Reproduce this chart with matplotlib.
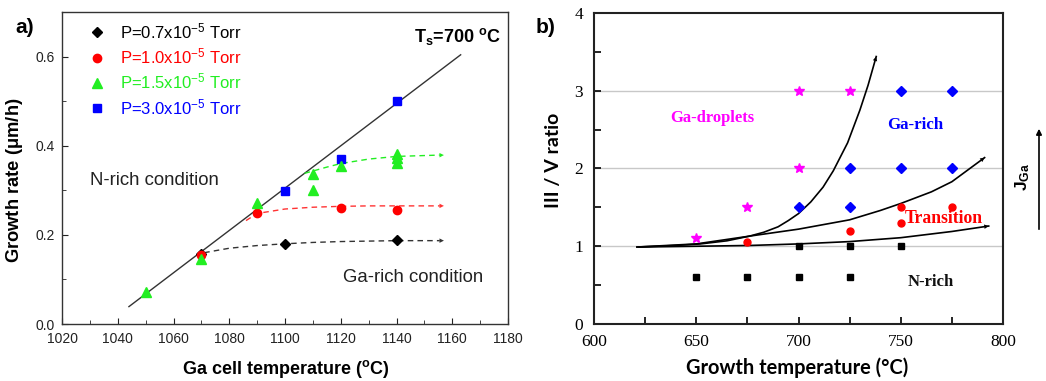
import matplotlib
matplotlib.use("Agg")
import matplotlib.pyplot as plt
from matplotlib.lines import Line2D

plt.rcParams['mathtext.fontset'] = 'custom'
plt.rcParams['mathtext.rm'] = 'Liberation Sans'
plt.rcParams['mathtext.bf'] = 'Liberation Sans:bold'
plt.rcParams['mathtext.it'] = 'Liberation Sans:italic'

# ---------------- Panel a data ----------------
a_black_x = [1070, 1100, 1140]
a_black_y = [0.158, 0.180, 0.189]
a_red_x = [1070, 1090, 1120, 1140]
a_red_y = [0.155, 0.250, 0.260, 0.255]
a_green_x = [1050, 1070, 1090, 1110, 1110, 1120, 1140, 1140, 1140]
a_green_y = [0.071, 0.146, 0.272, 0.337, 0.301, 0.355, 0.381, 0.372, 0.361]
a_blue_x = [1100, 1120, 1140]
a_blue_y = [0.299, 0.370, 0.500]

a_fit_x = [1044, 1163]
a_fit_y = [0.039, 0.604]

a_sat_black_x = [1071, 1080, 1090, 1100, 1110, 1120, 1130, 1140, 1157]
a_sat_black_y = [0.160, 0.170, 0.176, 0.180, 0.183, 0.185, 0.186, 0.187, 0.187]
a_sat_red_x = [1086, 1090, 1100, 1110, 1120, 1130, 1140, 1157]
a_sat_red_y = [0.232, 0.248, 0.258, 0.262, 0.264, 0.265, 0.265, 0.265]
a_sat_green_x = [1107, 1115, 1120, 1130, 1140, 1157]
a_sat_green_y = [0.338, 0.352, 0.360, 0.370, 0.376, 0.379]

a_legend_labels = [r'P=0.7x10$^{-5}$ Torr', r'P=1.0x10$^{-5}$ Torr',
                   r'P=1.5x10$^{-5}$ Torr', r'P=3.0x10$^{-5}$ Torr']

# ---------------- Panel b data ----------------
b_nrich_x = [650, 675, 700, 725, 700, 725, 750]
b_nrich_y = [0.6, 0.6, 0.6, 0.6, 1.0, 1.0, 1.0]
b_trans_x = [675, 725, 750, 750, 775]
b_trans_y = [1.05, 1.20, 1.50, 1.30, 1.50]
b_garich_x = [700, 725, 725, 750, 775, 750, 775]
b_garich_y = [1.5, 1.5, 2.0, 2.0, 2.0, 3.0, 3.0]
b_drop_x = [650, 675, 700, 700, 725]
b_drop_y = [1.1, 1.5, 2.0, 3.0, 3.0]

b_c1_x = [621, 640, 652, 665, 676, 683, 690, 695, 700, 706, 712, 717, 724, 730, 734, 738]
b_c1_y = [0.99, 1.01, 1.03, 1.07, 1.13, 1.18, 1.25, 1.33, 1.42, 1.57, 1.76, 1.97, 2.33, 2.75, 3.07, 3.44]
b_c2_x = [621, 650, 676, 700, 725, 740, 750, 765, 775, 791]
b_c2_y = [0.99, 1.03, 1.13, 1.22, 1.34, 1.46, 1.55, 1.70, 1.83, 2.14]
b_c3_x = [622, 650, 676, 700, 725, 750, 775, 793]
b_c3_y = [0.99, 1.00, 1.01, 1.03, 1.06, 1.11, 1.19, 1.26]

GREEN = '#22ee22'

fig = plt.figure(figsize=(10.46, 3.81), dpi=100)

# ================= Panel a =================
ax = fig.add_axes([0.0593, 0.1496, 0.4264, 0.8189])
ax.set_xlim(1020, 1180)
ax.set_ylim(0, 0.7)
ax.set_xticks(range(1020, 1181, 20))
ax.set_xticks(range(1030, 1180, 20), minor=True)
ax.set_yticks([0.0, 0.2, 0.4, 0.6])
ax.set_yticks([0.1, 0.3, 0.5], minor=True)
ax.set_yticklabels(['0.0', '0.2', '0.4', '0.6'])
ax.tick_params(which='both', direction='in', labelsize=10, colors='#222222')
ax.tick_params(which='major', length=4)
ax.tick_params(which='minor', length=3)
ax.tick_params(axis='x', pad=6)
ax.tick_params(axis='y', pad=5)
for lab in ax.get_xticklabels() + ax.get_yticklabels():
    lab.set_family('Liberation Sans')
for s in ax.spines.values():
    s.set_color('#333333')
    s.set_linewidth(1.0)

ax.plot(a_fit_x, a_fit_y, color='#333333', lw=1.0)

def dashed_arrow(ax, xs, ys, color):
    ax.plot(xs[:-1] + [xs[-1] - 1.5], ys[:-1] + [ys[-1]], color=color, lw=1.0, ls=(0, (4, 3)))
    ax.annotate('', xy=(xs[-1], ys[-1]), xytext=(xs[-2], ys[-2]),
                arrowprops=dict(arrowstyle='-|>', color=color, lw=0.0,
                                mutation_scale=8, shrinkA=0, shrinkB=0))

dashed_arrow(ax, a_sat_black_x, a_sat_black_y, '#333333')
dashed_arrow(ax, a_sat_red_x, a_sat_red_y, '#ff3333')
dashed_arrow(ax, a_sat_green_x, a_sat_green_y, GREEN)

ax.plot(a_black_x, a_black_y, 'D', color='black', ms=5.5, ls='none', zorder=3)
ax.plot(a_red_x, a_red_y, 'o', color='red', ms=6, ls='none', zorder=4)
ax.plot(a_green_x, a_green_y, '^', color=GREEN, ms=6.5, ls='none', zorder=5)
ax.plot(a_blue_x, a_blue_y, 's', color='blue', ms=5.5, ls='none', zorder=4)

handles = [Line2D([], [], marker='D', color='black', ms=5.5, ls='none'),
           Line2D([], [], marker='o', color='red', ms=6, ls='none'),
           Line2D([], [], marker='^', color=GREEN, ms=6.5, ls='none'),
           Line2D([], [], marker='s', color='blue', ms=5.5, ls='none')]
leg = ax.legend(handles, a_legend_labels, loc='upper left', bbox_to_anchor=(0.038, 1.003),
                frameon=False, prop={'family': 'Liberation Sans', 'size': 12},
                handletextpad=0.85, labelspacing=0.33, borderaxespad=0.2, handlelength=1.0)
for t, c in zip(leg.get_texts(), ['black', 'red', GREEN, 'blue']):
    t.set_color(c)

ax.text(1030.2, 0.323, 'N-rich condition', fontsize=13.4, family='Liberation Sans',
        color='#222222', va='center', ha='left')
ax.text(1120.7, 0.105, 'Ga-rich condition', fontsize=13.4, family='Liberation Sans',
        color='#222222', va='center', ha='left')
ax.text(0.985, 0.955, r'$\mathbf{T_s}$=700 $^{\mathbf{o}}$C', transform=ax.transAxes,
        fontsize=13, fontweight='bold', family='Liberation Sans', ha='right', va='top')

ax.set_xlabel(r'Ga cell temperature ($^{\mathbf{o}}$C)', fontsize=13, fontweight='bold',
              family='Liberation Sans')
ax.xaxis.set_label_coords(0.501, -0.108)
ax.set_ylabel(r'Growth rate ($\mathbf{\mu}$m/h)', fontsize=13.2, fontweight='bold',
              family='Liberation Sans')
ax.yaxis.set_label_coords(-0.083, 0.46)

fig.text(0.015, 0.928, 'a)', fontsize=15, fontweight='bold', family='Liberation Sans',
         va='center')

# ================= Panel b =================
bx = fig.add_axes([0.5679, 0.1496, 0.391, 0.8163])
bx.set_xlim(600, 800)
bx.set_ylim(0, 4)
bx.set_xticks([600, 650, 700, 750, 800])
bx.set_xticks([625, 675, 725, 775], minor=True)
bx.set_yticks([0, 1, 2, 3, 4])
bx.set_yticks([0.5, 1.5, 2.5, 3.5], minor=True)
bx.tick_params(which='both', direction='in', labelsize=12.5)
bx.tick_params(which='major', length=5, width=1.2)
bx.tick_params(which='minor', length=5, width=1.2)
bx.tick_params(axis='x', pad=7)
bx.tick_params(axis='y', pad=8)
for lab in bx.get_xticklabels() + bx.get_yticklabels():
    lab.set_family('Liberation Serif')
for s in bx.spines.values():
    s.set_linewidth(1.5)
    s.set_color('#222222')
for yv in [1, 2, 3]:
    bx.axhline(yv, color='#c8c8c8', lw=1.0, zorder=0)

def solid_arrow(ax, xs, ys):
    ax.plot(xs, ys, color='black', lw=1.2, zorder=2, solid_joinstyle='round')
    ax.annotate('', xy=(xs[-1], ys[-1]), xytext=(xs[-2], ys[-2]),
                arrowprops=dict(arrowstyle='-|>', color='black', lw=0.0,
                                mutation_scale=8, shrinkA=0, shrinkB=0))

solid_arrow(bx, b_c1_x, b_c1_y)
solid_arrow(bx, b_c2_x, b_c2_y)
solid_arrow(bx, b_c3_x, b_c3_y)

bx.plot(b_nrich_x, b_nrich_y, 's', color='black', ms=4.5, ls='none', zorder=3)
bx.plot(b_trans_x, b_trans_y, 'o', color='red', ms=5, ls='none', zorder=3)
bx.plot(b_garich_x, b_garich_y, 'D', color='blue', ms=5.5, ls='none', zorder=3)
bx.plot(b_drop_x, b_drop_y, '*', color='#ff00ff', ms=7, ls='none', zorder=3)

bx.text(657.8, 2.65, 'Ga-droplets', color='#ff00ff', fontsize=12, fontweight='bold',
        family='Liberation Serif', ha='center', va='center')
bx.text(757.3, 2.56, 'Ga-rich', color='blue', fontsize=12.2, fontweight='bold',
        family='Liberation Serif', ha='center', va='center')
bx.text(771.0, 1.36, 'Transition', color='red', fontsize=12.7, fontweight='bold',
        family='Liberation Serif', ha='center', va='center')
bx.text(764.7, 0.545, 'N-rich', color='#111111', fontsize=12, fontweight='bold',
        family='Liberation Serif', ha='center', va='center')

bx.set_xlabel('Growth temperature (°C)', fontsize=14.4, fontweight='bold', family='Lato')
bx.xaxis.set_label_coords(0.4976, -0.109)
bx.set_ylabel('III / V ratio', fontsize=14, fontweight='bold', family='Lato')
bx.yaxis.set_label_coords(-0.078, 0.527)

fig.text(0.512, 0.928, 'b)', fontsize=15, fontweight='bold', family='Liberation Sans',
         va='center')

fig.text(1023 / 1046, 1 - 177 / 381, r'$\mathbf{J_{Ga}}$', rotation=90, fontsize=12.5,
         ha='center', va='center')
fig.add_artist(matplotlib.patches.FancyArrowPatch(
    (1039 / 1046, 1 - 232 / 381), (1039 / 1046, 1 - 126 / 381),
    transform=fig.transFigure, arrowstyle='-|>', mutation_scale=8, color='black', lw=1.2))

fig.savefig('out.png', dpi=100)
